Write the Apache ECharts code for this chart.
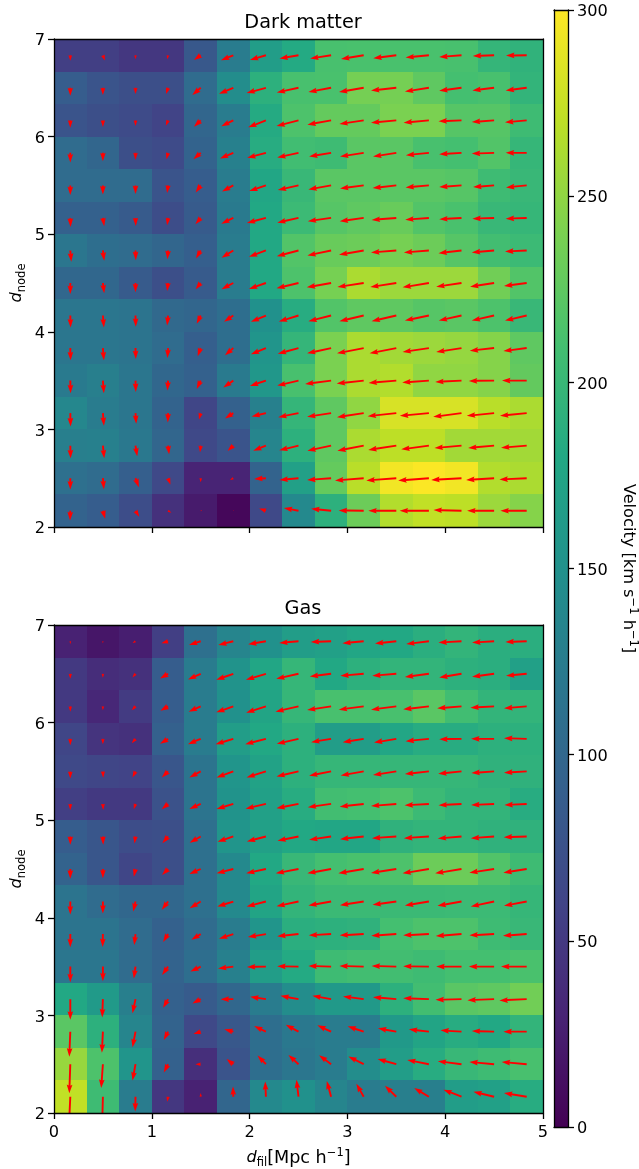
<!DOCTYPE html>
<html><head><meta charset="utf-8">
<style>html,body{margin:0;padding:0;background:#fff}#c{width:639px;height:1169px}</style>
<script src="https://cdn.jsdelivr.net/npm/echarts@6/dist/echarts.min.js"></script>
</head><body><div id="c"></div>
<script>
const xTicksRange=[0,5], yTicksRange=[2,7], colorRange=[0,300];
const viridis=['#440154','#482475','#414487','#355f8d','#2a788e','#21918c','#22a884','#44bf70','#7ad151','#bddf26','#fde725'];
const xCenters=[1/6,3/6,5/6,7/6,9/6,11/6,13/6,15/6,17/6,19/6,21/6,23/6,25/6,27/6,29/6];
const yCenters=[41/6,39/6,37/6,35/6,33/6,31/6,29/6,27/6,25/6,23/6,21/6,19/6,17/6,15/6,13/6];

const dmSpeed=[
[55,55,48,48,82,125,165,182,212,213,213,213,212,197,193],
[88,78,72,72,105,145,190,212,213,237,237,225,210,212,195],
[78,72,68,60,98,125,183,215,228,228,240,240,220,220,205],
[105,98,72,68,95,130,185,207,205,222,222,212,210,218,198],
[105,105,105,78,88,125,178,200,222,222,222,222,220,205,200],
[92,92,85,70,85,122,180,203,220,225,230,218,213,200,198],
[118,108,105,98,90,125,180,218,230,232,238,232,220,208,203],
[100,100,85,72,85,125,180,215,238,262,255,255,255,235,218],
[118,118,115,102,98,108,150,185,218,225,225,220,222,215,200],
[118,118,115,105,90,108,155,197,240,262,258,255,252,245,225],
[122,128,118,100,92,122,158,212,240,262,265,250,250,245,227],
[138,125,118,95,62,92,130,197,225,250,282,282,282,268,262],
[128,130,120,98,65,78,135,190,225,262,270,270,258,258,258],
[110,105,90,65,30,30,95,170,228,268,295,299,295,265,262],
[95,88,70,42,22,5,65,140,190,232,265,272,270,255,245]];
const dmU=[
[0,20,0,-10,-67,-123,-160,-190,-210,-227,-230,-233,-223,-213,-207],
[0,0,0,-20,-83,-143,-193,-217,-227,-247,-253,-240,-223,-217,-210],
[0,0,0,-23,-67,-120,-177,-220,-237,-243,-253,-253,-230,-223,-217],
[0,0,0,-17,-73,-133,-187,-213,-220,-237,-233,-230,-223,-223,-210],
[0,0,0,-10,-50,-113,-167,-207,-227,-237,-237,-233,-223,-210,-207],
[3,13,3,-10,-53,-120,-190,-213,-233,-240,-247,-237,-223,-217,-210],
[10,13,3,-7,-47,-117,-170,-217,-237,-247,-253,-250,-230,-223,-217],
[0,13,0,-10,-50,-117,-170,-220,-243,-263,-260,-263,-253,-240,-227],
[3,10,3,-10,-40,-93,-150,-197,-227,-243,-247,-240,-227,-223,-217],
[3,10,3,-7,-30,-83,-150,-207,-240,-267,-267,-263,-253,-243,-233],
[3,10,3,-7,-40,-100,-160,-213,-260,-270,-277,-267,-263,-253,-247],
[3,10,7,-3,-17,-83,-143,-203,-240,-267,-287,-290,-283,-273,-267],
[3,13,17,10,-7,-57,-127,-193,-237,-263,-280,-277,-270,-260,-257],
[0,10,33,23,0,-33,-117,-190,-240,-287,-300,-307,-303,-280,-273],
[-3,23,37,33,15,10,-67,-147,-200,-250,-280,-293,-280,-270,-263]];
const dmV=[
[-56,-53,-40,-40,-47,-50,-47,-33,-33,-37,-30,-23,-17,-7,-3],
[-80,-73,-63,-63,-73,-60,-53,-47,-43,-43,-27,-37,-30,-27,-27],
[-73,-67,-57,-53,-63,-60,-70,-57,-43,-37,-23,-23,-10,-17,-20],
[-97,-83,-70,-63,-63,-57,-50,-47,-37,-37,-37,-23,-13,-7,0],
[-97,-90,-87,-77,-70,-60,-57,-47,-40,-30,-27,-20,-17,-17,-20],
[-90,-83,-80,-73,-63,-57,-50,-47,-33,-33,-20,-17,-13,-7,-7],
[-113,-103,-97,-87,-80,-73,-63,-57,-50,-43,-20,-20,-27,-20,-10],
[-110,-103,-93,-80,-63,-63,-60,-53,-43,-40,-40,-43,-37,-37,-30],
[-120,-120,-113,-100,-83,-63,-63,-60,-57,-57,-57,-50,-50,-50,-50],
[-123,-123,-110,-100,-83,-73,-63,-57,-53,-53,-53,-40,-40,-27,-30],
[-127,-127,-113,-100,-83,-70,-53,-50,-33,-30,-23,-20,-13,-3,0],
[-133,-127,-107,-93,-63,-53,-33,-40,-37,-40,-30,-27,-37,-27,-27],
[-127,-127,-107,-87,-67,-53,-50,-47,-50,-50,-43,-37,-23,-23,-20],
[-113,-110,-90,-63,-40,-17,-7,-17,-17,-23,-23,-23,-17,-17,-13],
[-97,-80,-60,-20,0,0,23,27,20,3,0,0,7,0,0]];

const gasSpeed=[
[28,18,25,55,110,135,150,165,170,178,180,188,195,188,188],
[50,38,42,88,125,152,178,198,180,190,195,195,190,188,170],
[50,33,52,88,125,150,175,198,212,212,212,222,207,195,195],
[62,45,42,92,125,165,180,190,165,165,178,185,185,190,190],
[65,62,60,80,115,155,172,190,198,198,198,198,198,192,192],
[55,50,50,75,115,153,170,185,208,210,215,203,195,195,185],
[88,80,70,72,110,155,170,180,178,178,192,195,195,192,192],
[95,80,62,72,110,140,180,200,210,213,215,232,232,217,205],
[115,105,100,100,110,140,175,195,202,202,202,202,203,203,198],
[115,115,105,92,105,125,155,188,190,192,210,215,215,205,200],
[118,118,105,95,108,130,165,182,205,208,208,205,210,210,213],
[180,162,128,92,85,100,125,145,160,160,190,208,222,225,235],
[222,190,135,95,65,82,108,120,125,125,160,175,185,180,195],
[253,215,155,92,40,78,108,118,125,145,165,185,200,205,212],
[272,205,125,48,28,98,140,150,135,125,128,128,165,170,185]];
const gasU=[
[0,0,-30,-67,-117,-150,-177,-193,-203,-213,-213,-227,-230,-220,-213],
[0,0,-30,-80,-127,-170,-200,-223,-213,-233,-240,-240,-223,-220,-207],
[0,0,-37,-77,-120,-170,-197,-230,-240,-250,-253,-257,-243,-237,-227],
[0,0,-37,-80,-127,-177,-207,-217,-200,-210,-223,-233,-223,-230,-227],
[0,3,-30,-63,-113,-167,-193,-220,-220,-230,-233,-240,-233,-227,-227],
[0,3,-17,-63,-113,-167,-203,-220,-233,-240,-253,-243,-230,-230,-223],
[0,3,-10,-57,-110,-157,-190,-210,-220,-237,-243,-250,-237,-233,-230],
[0,0,-17,-60,-113,-167,-197,-227,-237,-253,-253,-263,-263,-247,-233],
[0,0,-23,-63,-110,-160,-193,-220,-227,-237,-237,-240,-240,-233,-227],
[0,-3,-13,-50,-93,-143,-180,-213,-223,-240,-250,-257,-257,-247,-237],
[0,0,-17,-60,-103,-153,-190,-213,-227,-243,-247,-257,-253,-253,-257],
[0,-7,-30,-50,-83,-127,-157,-180,-187,-207,-233,-257,-260,-267,-273],
[-10,-10,-30,-43,-73,-90,-117,-127,-137,-160,-183,-200,-210,-223,-233],
[-10,-17,-30,-43,-53,-67,-83,-100,-120,-153,-187,-217,-237,-247,-250],
[-15,-7,-3,-10,0,-3,-7,-20,-43,-73,-113,-147,-180,-207,-227]];
const gasV=[
[-27,-20,-17,-20,-37,-37,-30,-17,-7,-20,-23,-27,-13,-13,-7],
[-50,-40,-37,-47,-57,-60,-60,-50,-27,-20,-20,-33,-37,-30,-20],
[-53,-40,-40,-43,-53,-60,-63,-53,-37,-33,-33,-30,-20,-13,-20],
[-63,-53,-43,-50,-53,-53,-53,-50,-33,-33,-37,-23,-3,0,7],
[-70,-63,-60,-60,-60,-60,-60,-50,-43,-40,-37,-27,-23,-17,-13],
[-60,-60,-53,-53,-50,-50,-47,-43,-33,-27,-20,-13,-13,-10,-10],
[-83,-83,-70,-67,-63,-53,-50,-43,-33,-27,-17,-17,-20,-17,-7],
[-97,-93,-77,-60,-50,-43,-43,-43,-43,-43,-40,-43,-43,-37,-37],
[-130,-120,-100,-83,-67,-50,-50,-47,-40,-37,-33,-40,-43,-50,-43],
[-133,-130,-110,-80,-57,-47,-30,-23,-13,-13,-17,-13,-20,-13,-17],
[-157,-147,-120,-83,-50,-20,-3,3,7,7,7,3,0,0,0],
[-207,-183,-140,-87,-43,0,23,33,33,27,20,10,-7,-10,-13],
[-250,-210,-157,-83,-23,23,57,70,63,53,33,23,13,7,0],
[-290,-237,-163,-83,0,53,87,93,90,77,53,43,30,23,23],
[-320,-270,-147,-50,37,103,153,170,157,130,110,87,70,50,37]];

const FONT='"DejaVu Sans"', INK='#000';
const CELL_W=1/3, CELL_H=1/3, ARROW_SCALE=0.1;
const SHAFT=1.9, HEAD_W=5.7, HEAD_L=8.5, HEAD_AX=7.6;

function cells(speed){const o=[];speed.forEach((row,r)=>row.forEach((v,c)=>o.push([xCenters[c],yCenters[r],v])));return o;}
function arrows(U,V){const o=[];U.forEach((row,r)=>row.forEach((u,c)=>o.push([xCenters[c],yCenters[r],u,V[r][c]])));return o;}

function renderCell(params,api){
  const x=api.value(0),y=api.value(1);
  const a=api.coord([x-CELL_W/2,y+CELL_H/2]), b=api.coord([x+CELL_W/2,y-CELL_H/2]);
  const x0=Math.round(a[0]),y0=Math.round(a[1]),x1=Math.round(b[0]),y1=Math.round(b[1]);
  return {type:'rect',shape:{x:x0,y:y0,width:x1-x0,height:y1-y0},style:{fill:api.visual('color')}};
}
function renderArrow(params,api){
  const t=api.coord([api.value(0),api.value(1)]);
  const dx=api.value(2)*ARROW_SCALE, dy=-api.value(3)*ARROW_SCALE;
  const L=Math.hypot(dx,dy); if(L<0.2) return {type:'group',children:[]};
  const s=Math.min(1,L/HEAD_L);
  const w=SHAFT*s/2, hw=HEAD_W*s/2, ax=L-HEAD_AX*s, hl=L-HEAD_L*s;
  const pts=[[0,w],[ax,w],[hl,hw],[L,0],[hl,-hw],[ax,-w],[0,-w]];
  const ca=dx/L, sa=dy/L;
  return {type:'polygon',shape:{points:pts.map(p=>[t[0]+p[0]*ca-p[1]*sa,t[1]+p[0]*sa+p[1]*ca])},style:{fill:'#ff0000'},z2:5};
}
function renderBar(params,api){
  const a=api.coord([0,colorRange[1]]), b=api.coord([1,colorRange[0]]);
  const stops=viridis.map((c,i)=>({offset:1-i/(viridis.length-1),color:c}));
  return {type:'rect',shape:{x:a[0],y:a[1],width:b[0]-a[0],height:b[1]-a[1]},
    style:{fill:new echarts.graphic.LinearGradient(0,0,0,1,stops.slice().reverse())}};
}

const line={show:true,onZero:false,lineStyle:{color:INK,width:1.3}};
const tick={show:true,length:6,lineStyle:{color:INK,width:1.3}};
const lab={show:true,color:INK,fontFamily:FONT,fontSize:16.2,margin:9};
const labY=Object.assign({},lab,{formatter:'{a|{value}}',rich:{a:{fontFamily:FONT,fontSize:16.2,color:INK,padding:[4,0,0,0]}}});
const labX=Object.assign({},lab,{margin:12});
const off={show:false};
const noTick={splitLine:off,axisTick:off,axisLabel:off,axisLine:line};
const subRich={i:{fontFamily:FONT,fontStyle:'italic',fontSize:16.2,color:INK,lineHeight:22,verticalAlign:'middle'},
  s:{fontFamily:FONT,fontSize:11.5,color:INK,lineHeight:15,verticalAlign:'bottom'},
  t:{fontFamily:FONT,fontSize:16.2,color:INK,lineHeight:22,verticalAlign:'middle'},
  x:{fontFamily:FONT,fontSize:17.6,color:INK,lineHeight:22,verticalAlign:'middle'},
  u:{fontFamily:FONT,fontSize:11.5,color:INK,lineHeight:15,verticalAlign:'top'}};

function xA(g,named){return {type:'value',gridIndex:g,position:'bottom',min:xTicksRange[0],max:xTicksRange[1],interval:1,z:10,
  splitLine:off,axisLine:line,axisTick:tick,axisLabel:named?labX:off,
  name:named?'{i|d}{s|fil}{x|[Mpc h}{u|\u22121}{x|]}':'',nameLocation:'middle',nameGap:34,nameMoveOverlap:false,nameTextStyle:{rich:subRich}};}
function yA(g){return {type:'value',gridIndex:g,position:'left',min:yTicksRange[0],max:yTicksRange[1],interval:1,z:10,
  splitLine:off,axisLine:line,axisTick:tick,axisLabel:labY,
  name:'{i|d}{s|node}',nameLocation:'middle',nameGap:26,nameRotate:90,nameMoveOverlap:false,nameTextStyle:{rich:subRich}};}
function xTop(g,mx){return Object.assign({type:'value',gridIndex:g,position:'top',min:0,max:mx,z:10},noTick);}
function yRight(g){return Object.assign({type:'value',gridIndex:g,position:'right',min:yTicksRange[0],max:yTicksRange[1],z:10},noTick);}

const option={
  animation:false,backgroundColor:'#fff',
  title:[
    {text:'Dark matter',left:298,top:8,textAlign:'center',textStyle:{fontFamily:FONT,fontWeight:'normal',fontSize:19.3,color:INK}},
    {text:'Gas',left:298,top:594,textAlign:'center',textStyle:{fontFamily:FONT,fontWeight:'normal',fontSize:19.3,color:INK}}
  ],
  grid:[
    {left:54,top:39,width:489,height:488,outerBoundsMode:'none',containLabel:false},
    {left:54,top:625,width:489,height:488,outerBoundsMode:'none',containLabel:false},
    {left:554,top:10,width:14,height:1117,outerBoundsMode:'none',containLabel:false}
  ],
  xAxis:[xA(0,false),xA(1,true),xTop(0,5),xTop(1,5),
    Object.assign({type:'value',gridIndex:2,position:'bottom',min:0,max:1,z:10},noTick),
    xTop(2,1)],
  yAxis:[yA(0),yA(1),yRight(0),yRight(1),
    {type:'value',gridIndex:2,position:'right',min:colorRange[0],max:colorRange[1],interval:50,z:10,
     splitLine:off,axisLine:line,axisTick:tick,axisLabel:labY,
     name:'{t|Velocity [km s}{u|\u22121}{t| h}{u|\u22121}{t|]}',nameLocation:'middle',nameGap:49,nameRotate:-90,nameMoveOverlap:false,nameTextStyle:{rich:subRich}},
    Object.assign({type:'value',gridIndex:2,position:'left',min:colorRange[0],max:colorRange[1],z:10},noTick)],
  visualMap:[{type:'continuous',show:false,min:colorRange[0],max:colorRange[1],dimension:2,seriesIndex:[0,2],inRange:{color:viridis}}],
  series:[
    {type:'custom',name:'Dark matter speed',xAxisIndex:0,yAxisIndex:0,renderItem:renderCell,data:cells(dmSpeed),encode:{x:0,y:1},silent:true,z:2},
    {type:'custom',name:'Dark matter flow',xAxisIndex:0,yAxisIndex:0,renderItem:renderArrow,data:arrows(dmU,dmV),encode:{x:0,y:1},clip:true,silent:true,z:3},
    {type:'custom',name:'Gas speed',xAxisIndex:1,yAxisIndex:1,renderItem:renderCell,data:cells(gasSpeed),encode:{x:0,y:1},silent:true,z:2},
    {type:'custom',name:'Gas flow',xAxisIndex:1,yAxisIndex:1,renderItem:renderArrow,data:arrows(gasU,gasV),encode:{x:0,y:1},clip:true,silent:true,z:3},
    {type:'custom',name:'Colorbar',xAxisIndex:4,yAxisIndex:4,renderItem:renderBar,data:[[0.5,150]],encode:{x:0,y:1},silent:true,z:2}
  ]
};
echarts.init(document.getElementById('c'),null,{renderer:'canvas'}).setOption(option);
</script></body></html>
